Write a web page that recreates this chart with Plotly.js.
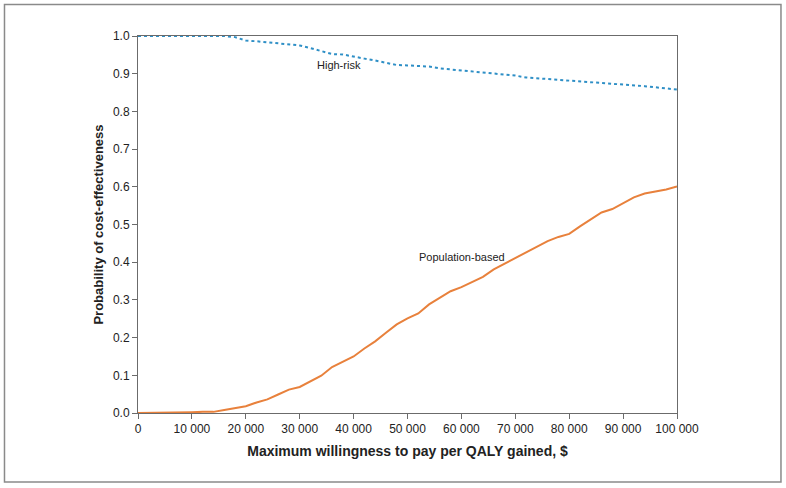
<!DOCTYPE html>
<html>
<head>
<meta charset="utf-8">
<script src="https://cdn.plot.ly/plotly-3.0.1.min.js"></script>
<style>html,body{margin:0;padding:0;background:#fff;}#chart{width:786px;height:488px;}</style>
</head>
<body>
<div id="chart"></div>
<script>
const wtp = [0,2000,4000,6000,8000,10000,12000,14000,16000,18000,20000,22000,24000,26000,28000,30000,32000,34000,36000,38000,40000,42000,44000,46000,48000,50000,52000,54000,56000,58000,60000,62000,64000,66000,68000,70000,72000,74000,76000,78000,80000,82000,84000,86000,88000,90000,92000,94000,96000,98000,100000];
const populationBased = [0,0,0,0,0,0.002,0.003,0.003,0.008,0.014,0.018,0.028,0.036,0.049,0.062,0.069,0.083,0.099,0.122,0.136,0.150,0.171,0.190,0.213,0.235,0.251,0.264,0.288,0.306,0.323,0.334,0.348,0.361,0.381,0.396,0.410,0.425,0.440,0.456,0.467,0.475,0.495,0.513,0.532,0.541,0.556,0.572,0.582,0.587,0.593,0.601];
const highRisk = [1,1,1,1,1,1,1,1,1,0.997,0.988,0.986,0.983,0.979,0.976,0.975,0.968,0.960,0.952,0.951,0.945,0.940,0.935,0.929,0.923,0.922,0.921,0.919,0.914,0.911,0.909,0.907,0.903,0.900,0.897,0.895,0.890,0.888,0.886,0.884,0.882,0.880,0.877,0.875,0.873,0.871,0.869,0.867,0.864,0.861,0.858];
const seriesNames = ["High-risk", "Population-based"];
const xTitle = "Maximum willingness to pay per QALY gained, $";
const yTitle = "Probability of cost-effectiveness";

const FONT = "Liberation Sans, Arial, Helvetica, sans-serif";

const traces = [
  {x: wtp, y: highRisk, name: seriesNames[0], mode: "lines",
   line: {color: "#2e8fc6", width: 2, dash: "dot"}, cliponaxis: false},
  {x: wtp, y: populationBased, name: seriesNames[1], mode: "lines",
   line: {color: "#e8813c", width: 2}, cliponaxis: false}
];

const axisCommon = {
  showline: true, linecolor: "#6b6b6b", linewidth: 1, mirror: true,
  ticks: "outside", ticklen: 5, tickcolor: "#6b6b6b", tickwidth: 1,
  showgrid: false, zeroline: false,
  tickfont: {family: FONT, size: 12, color: "#222"}
};

const layout = {
  width: 786, height: 488,
  margin: {l: 138, r: 109, t: 36, b: 75},
  paper_bgcolor: "#fff", plot_bgcolor: "#fff",
  showlegend: false,
  separators: ". ",
  font: {family: FONT, color: "#222"},
  xaxis: Object.assign({}, axisCommon, {
    range: [0, 100000], tick0: 0, dtick: 10000, tickformat: ",d",
    title: {text: xTitle, font: {family: FONT, size: 14, color: "#222", weight: "bold"}, standoff: 10}
  }),
  yaxis: Object.assign({}, axisCommon, {
    range: [0, 1], tick0: 0, dtick: 0.1, tickformat: ".1f",
    title: {text: yTitle, font: {family: FONT, size: 13, color: "#222", weight: "bold"}, standoff: 6}
  }),
  annotations: [
    {x: 37300, y: 0.923, xref: "x", yref: "y", text: seriesNames[0], showarrow: false,
     font: {family: FONT, size: 11, color: "#222"}},
    {x: 60200, y: 0.415, xref: "x", yref: "y", text: seriesNames[1], showarrow: false,
     font: {family: FONT, size: 11, color: "#222"}}
  ],
  shapes: [
    {type: "rect", xref: "paper", yref: "paper", x0: -0.2477, x1: 1.1929, y0: -0.1830, y1: 1.0836,
     line: {color: "#8a8a8a", width: 1.5}, fillcolor: "rgba(0,0,0,0)", layer: "below"}
  ]
};

Plotly.newPlot("chart", traces, layout, {displayModeBar: false, staticPlot: true});
</script>
</body>
</html>
